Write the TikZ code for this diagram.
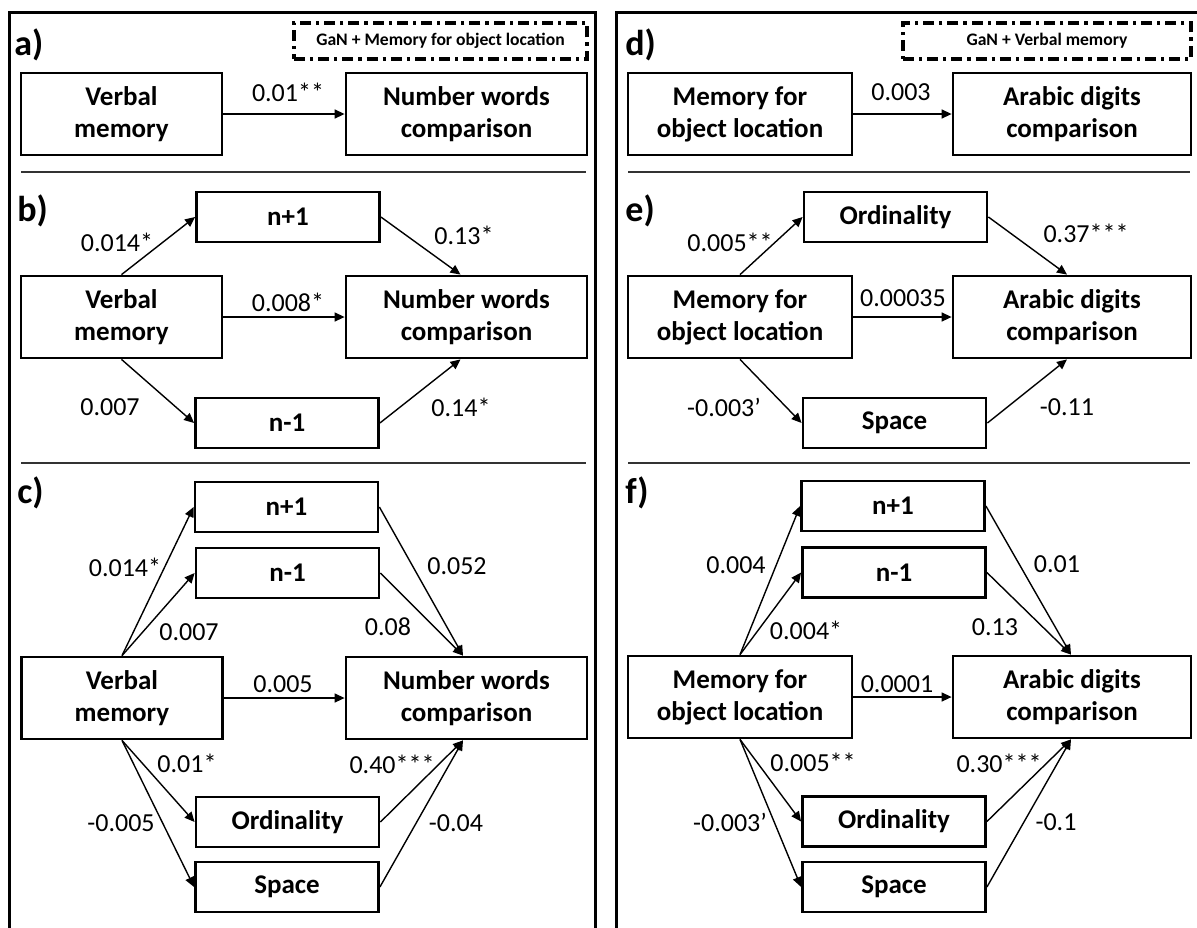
\documentclass[tikz,border=0pt]{standalone}
\usepackage{fontspec}
\setmainfont{Carlito}
\usetikzlibrary{arrows.meta}
\tikzset{
  box/.style={draw, line width=1.4pt, inner sep=0pt, align=center, font=\bfseries\fontsize{13.5}{16}\selectfont},
  vbox/.style={box, minimum width=100.5pt, minimum height=41pt},
  nbox/.style={box, minimum width=120.5pt, minimum height=41pt},
  mbox/.style={box, minimum width=112pt, minimum height=41pt},
  abox/.style={box, minimum width=119pt, minimum height=41pt},
  sbox/.style={box, minimum width=91.5pt, minimum height=25pt},
  coef/.style={inner sep=0pt, font=\fontsize{13}{15}\selectfont},
  plabel/.style={inner sep=0pt, anchor=west, font=\bfseries\fontsize{18}{20}\selectfont},
  gan/.style={draw, line width=1.6pt, dash pattern=on 5.5pt off 2.5pt on 1.6pt off 2.5pt, inner sep=0pt, minimum height=18pt, font=\bfseries\fontsize{8.8}{10}\selectfont},
  arr/.style={-{Triangle[length=5pt,width=4.5pt]}, line width=0.7pt},
  frame/.style={line width=1.5pt},
  sep/.style={line width=1pt, black!80}
}
\begin{document}
\begin{tikzpicture}[x=0.5pt,y=-0.5pt]
\useasboundingbox (0,0) rectangle (1197,927);
% frames
\draw[frame] (9,940) -- (9,12) -- (595,12) -- (595,940);
\draw[frame] (616,940) -- (616,12) -- (1210,12);
% separators
\draw[sep] (21,172) -- (586,172);
\draw[sep] (21,463) -- (586,463);
\draw[sep] (628,172) -- (1190,172);
\draw[sep] (628,463) -- (1190,463);

% ---------- panel a ----------
\node[plabel] (la) at (14,45) {a)};
\node[gan, minimum width=146.5pt] (gana) at (440.5,41) {GaN + Memory for object location};
\node[vbox] (av) at (121.5,114) {Verbal\\memory};
\node[nbox] (an) at (466.5,114) {Number words\\comparison};
\draw[arr] (av) -- (an);
\node[coef] (ca1) at (288,92) {0.01**};

% ---------- panel b ----------
\node[plabel] (lb) at (17,211) {b)};
\node[sbox] (bp) at (288,217) {n+1};
\node[vbox] (bv) at (121.5,317) {Verbal\\memory};
\node[nbox] (bn) at (466.5,317) {Number words\\comparison};
\node[sbox] (bm) at (287,423) {n-1};
\coordinate (bnt) at ([xshift=-3pt]bn.north);
\coordinate (bnb) at ([xshift=-3pt]bn.south);
\draw[arr] (bv.north) -- (bp.west);
\draw[arr] (bp.east) -- (bnt);
\draw[arr] (bv) -- (bn);
\draw[arr] (bv.south) -- (bm.west);
\draw[arr] (bm.east) -- (bnb);
\node[coef] (cb1) at (117,242) {0.014*};
\node[coef] (cb2) at (464,235) {0.13*};
\node[coef] (cb3) at (288,302) {0.008*};
\node[coef] (cb4) at (110,407) {0.007};
\node[coef] (cb5) at (461,407) {0.14*};

% ---------- panel c ----------
\node[plabel] (lc) at (17,493) {c)};
\node[sbox] (cp) at (286.5,507) {n+1};
\node[sbox] (cm) at (287.5,573) {n-1};
\node[vbox] (cv) at (122,698) {Verbal\\memory};
\node[nbox] (cn) at (466.5,698) {Number words\\comparison};
\node[sbox] (co) at (287.5,822) {Ordinality};
\node[sbox] (cs) at (287,887) {Space};
\coordinate (cnt) at ([xshift=-1.75pt]cn.north);
\coordinate (cnb) at ([xshift=-1.75pt]cn.south);
\draw[arr] (cv.north) -- (cp.west);
\draw[arr] (cv.north) -- (cm.west);
\draw[arr] (cp.east) -- (cnt);
\draw[arr] (cm.east) -- (cnt);
\draw[arr] (cv) -- (cn);
\draw[arr] (cv.south) -- (co.west);
\draw[arr] (cv.south) -- (cs.west);
\draw[arr] (co.east) -- (cnb);
\draw[arr] (cs.east) -- (cnb);
\node[coef] (cc1) at (125,567) {0.014*};
\node[coef] (cc2) at (189,632) {0.007};
\node[coef] (cc3) at (457,566) {0.052};
\node[coef] (cc4) at (388,627) {0.08};
\node[coef] (cc5) at (283,684) {0.005};
\node[coef] (cc6) at (187,763) {0.01*};
\node[coef] (cc7) at (392,764) {0.40***};
\node[coef] (cc8) at (121,823) {-0.005};
\node[coef] (cc9) at (456,823) {-0.04};

% ---------- panel d ----------
\node[plabel] (ld) at (625,45) {d)};
\node[gan, minimum width=144pt] (gand) at (1047,41) {GaN + Verbal memory};
\node[mbox] (dv) at (740,114) {Memory for\\object location};
\node[abox] (dn) at (1072,114) {Arabic digits\\comparison};
\draw[arr] (dv) -- (dn);
\node[coef] (cd1) at (901,92) {0.003};

% ---------- panel e ----------
\node[plabel] (le) at (625,211) {e)};
\node[sbox] (eo) at (895.5,217) {Ordinality};
\node[mbox] (ev) at (740,317) {Memory for\\object location};
\node[abox] (en) at (1072,317) {Arabic digits\\comparison};
\node[sbox] (es) at (894.5,423) {Space};
\coordinate (ent) at ([xshift=-2.5pt]en.north);
\coordinate (enb) at ([xshift=-2.5pt]en.south);
\draw[arr] (ev.north) -- (eo.west);
\draw[arr] (eo.east) -- (ent);
\draw[arr] (ev) -- (en);
\draw[arr] (ev.south) -- (es.west);
\draw[arr] (es.east) -- (enb);
\node[coef] (ce1) at (730,242) {0.005**};
\node[coef] (ce2) at (1086,233) {0.37***};
\node[coef] (ce3) at (903,298) {0.00035};
\node[coef] (ce4) at (724,407) {-0.003’};
\node[coef] (ce5) at (1067,407) {-0.11};

% ---------- panel f ----------
\node[plabel] (lf) at (625,493) {f)};
\node[sbox] (fp) at (893,506) {n+1};
\node[sbox] (fm) at (894,572.5) {n-1};
\node[mbox] (fv) at (740,697) {Memory for\\object location};
\node[abox] (fn) at (1072,697) {Arabic digits\\comparison};
\node[sbox] (fo) at (894,821.5) {Ordinality};
\node[sbox] (fs) at (894,887) {Space};
\coordinate (fnt) at ([xshift=-0.5pt]fn.north);
\coordinate (fnb) at ([xshift=-0.5pt]fn.south);
\draw[arr] (fv.north) -- (fp.west);
\draw[arr] (fv.north) -- (fm.west);
\draw[arr] (fp.east) -- (fnt);
\draw[arr] (fm.east) -- (fnt);
\draw[arr] (fv) -- (fn);
\draw[arr] (fv.south) -- (fo.west);
\draw[arr] (fv.south) -- (fs.west);
\draw[arr] (fo.east) -- (fnb);
\draw[arr] (fs.east) -- (fnb);
\node[coef] (cf1) at (736,565) {0.004};
\node[coef] (cf2) at (806,630) {0.004*};
\node[coef] (cf3) at (1057,564) {0.01};
\node[coef] (cf4) at (995,627) {0.13};
\node[coef] (cf5) at (897,684) {0.0001};
\node[coef] (cf6) at (813,762) {0.005**};
\node[coef] (cf7) at (999,763) {0.30***};
\node[coef] (cf8) at (730,822) {-0.003’};
\node[coef] (cf9) at (1056,822) {-0.1};
\end{tikzpicture}
\end{document}
